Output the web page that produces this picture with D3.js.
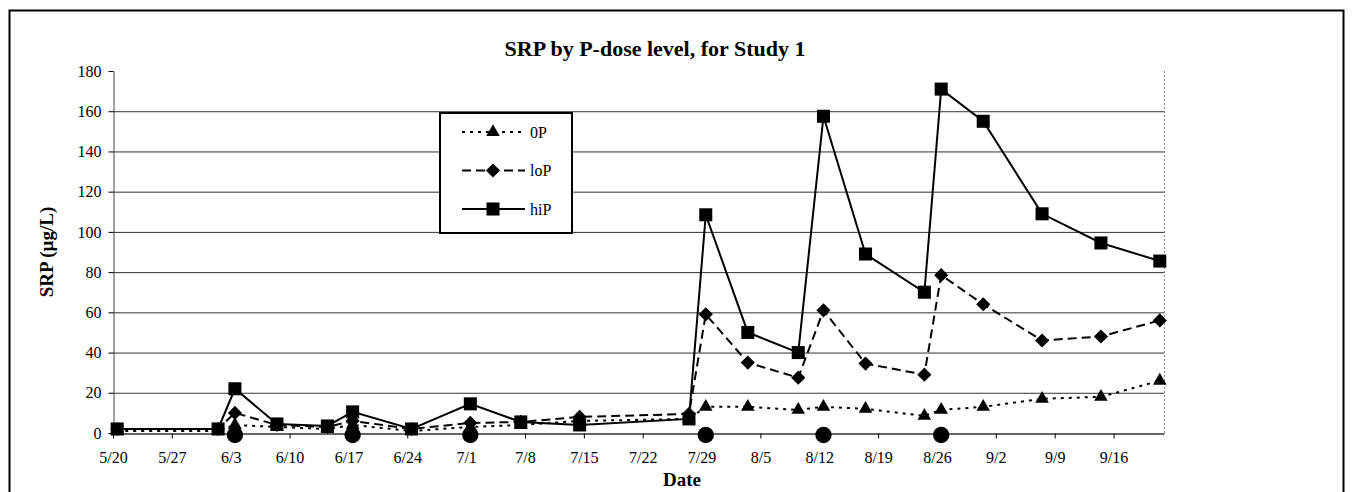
<!DOCTYPE html>
<html>
<head>
<meta charset="utf-8">
<script src="https://cdn.jsdelivr.net/npm/d3@7"></script>
<style>
  html, body { margin: 0; padding: 0; background: #fff; }
  svg { display: block; font-family: "Liberation Serif", "Times New Roman", serif; }
</style>
</head>
<body>
<svg></svg>
<script>
// sampling dates (samples taken around midday) and SRP in ug/L
var sampleDates = ['5/20', '6/1', '6/3', '6/8', '6/14', '6/17', '6/24', '7/1', '7/7', '7/14', '7/27',
    '7/29', '8/3', '8/9', '8/12', '8/17', '8/24', '8/26', '8/31', '9/7', '9/14', '9/21'];
var zeroP = [1, 1, 4, 3, 2, 4, 1, 3, 4, 6, 7, 13, 13, 11.5, 13, 12, 8.5, 11.5, 13, 17, 18, 26];
var loP = [2, 2, 10, 4, 3, 6, 2, 5, 5.5, 8, 9.5, 59, 35, 27.5, 61, 34.5, 29, 78.5, 64, 46, 48, 56];
var hiP = [2, 2, 22, 4.5, 3.5, 10.5, 2, 14.5, 5.5, 4, 7, 108.5, 50, 40, 157.5, 89, 70, 171, 155, 109, 94.5, 85.5];

// P-dose events
var doseDates = ['6/3', '6/17', '7/1', '7/29', '8/12', '8/26'];
var doseLevel = -1;

var tickDates = ['5/20', '5/27', '6/3', '6/10', '6/17', '6/24', '7/1', '7/8', '7/15', '7/22',
    '7/29', '8/5', '8/12', '8/19', '8/26', '9/2', '9/9', '9/16'];
var yTicks = [0, 20, 40, 60, 80, 100, 120, 140, 160, 180];
var gridTicks = [20, 40, 60, 80, 100, 120, 140, 160];

var width = 1353;
var height = 492;
var year = 2001;
var sampleHour = 12;

var parseDay = d3.timeParse('%m/%d/%Y %H');
function toTime(s, hour) {
    return parseDay(s + '/' + year + ' ' + (hour || 0));
}
var fmt = d3.timeFormat('%-m/%-d');

var x = d3.scaleTime()
    .domain([toTime('5/20'), toTime('9/22')])
    .range([113, 1164]);
var y = d3.scaleLinear()
    .domain([0, 180])
    .range([433, 71]);

var svg = d3.select('svg')
    .attr('width', width)
    .attr('height', height)
    .attr('viewBox', '0 0 ' + width + ' ' + height);

// outer frame
svg.append('rect')
    .attr('x', 9.5).attr('y', 10.5)
    .attr('width', 1334).attr('height', 520)
    .attr('fill', 'none')
    .attr('stroke', '#000')
    .attr('stroke-width', 2);

// title
svg.append('text')
    .attr('x', 655).attr('y', 56)
    .attr('text-anchor', 'middle')
    .style('font-weight', 'bold')
    .style('font-size', '22px')
    .text('SRP by P-dose level, for Study 1');

// gridlines
svg.append('g').selectAll('line')
    .data(gridTicks)
    .enter()
    .append('line')
    .attr('x1', x.range()[0]).attr('x2', x.range()[1])
    .attr('y1', function (d) { return y(d) + 0.5; })
    .attr('y2', function (d) { return y(d) + 0.5; })
    .attr('stroke', '#333')
    .attr('stroke-width', 1);

// right edge of plot area
svg.append('line')
    .attr('x1', x.range()[1] + 0.5).attr('x2', x.range()[1] + 0.5)
    .attr('y1', y(0)).attr('y2', y(180))
    .attr('stroke', '#888')
    .attr('stroke-dasharray', '2,2');

// y axis
var yAxis = svg.append('g')
    .attr('transform', 'translate(' + (x.range()[0] + 0.5) + ',0)')
    .call(d3.axisLeft(y).tickValues(yTicks).tickSize(5).tickSizeOuter(0));
yAxis.select('.domain').attr('stroke', '#444');
yAxis.selectAll('text')
    .attr('x', -12)
    .style('font-family', '"Liberation Serif", serif')
    .style('font-size', '16px')
    .attr('fill', '#000');

// x axis
var xAxis = svg.append('g')
    .attr('transform', 'translate(0,' + (y(0) + 0.5) + ')')
    .call(d3.axisBottom(x)
        .tickValues(tickDates.map(function (d) { return toTime(d); }))
        .tickFormat(fmt)
        .tickSize(5)
        .tickSizeOuter(0));
xAxis.select('.domain').attr('stroke', '#333').attr('stroke-width', 1.5);
xAxis.selectAll('text')
    .attr('y', 18)
    .style('font-family', '"Liberation Serif", serif')
    .style('font-size', '16px')
    .attr('fill', '#000');

// axis titles
svg.append('text')
    .attr('transform', 'translate(53,252) rotate(-90)')
    .attr('text-anchor', 'middle')
    .style('font-weight', 'bold')
    .style('font-size', '19px')
    .text('SRP (µg/L)');
svg.append('text')
    .attr('x', 682).attr('y', 486)
    .attr('text-anchor', 'middle')
    .style('font-weight', 'bold')
    .style('font-size', '19px')
    .text('Date');

var triangle = d3.symbol(d3.symbolTriangle, 80)();
var diamond = d3.symbol(d3.symbolSquare, 100)();
var square = d3.symbol(d3.symbolSquare, 170)();
var circle = d3.symbol(d3.symbolCircle, 210)();

var series = [
    { name: '0P', values: zeroP, dash: '3,5', shape: triangle, rot: 0 },
    { name: 'loP', values: loP, dash: '9,5', shape: diamond, rot: 45 },
    { name: 'hiP', values: hiP, dash: null, shape: square, rot: 0 }
];

var line = d3.line()
    .x(function (d) { return x(d.date); })
    .y(function (d) { return y(d.value); });

series.forEach(function (s) {
    var pts = sampleDates.map(function (d, i) {
        return { date: toTime(d, sampleHour), value: s.values[i] };
    });
    var g = svg.append('g').attr('class', 'series');
    g.append('path')
        .datum(pts)
        .attr('fill', 'none')
        .attr('stroke', '#000')
        .attr('stroke-width', 2)
        .attr('stroke-dasharray', s.dash)
        .attr('d', line);
    g.selectAll('path.mark')
        .data(pts)
        .enter()
        .append('path')
        .attr('class', 'mark')
        .attr('d', s.shape)
        .attr('fill', '#000')
        .attr('transform', function (d) {
            return 'translate(' + x(d.date) + ',' + y(d.value) + ') rotate(' + s.rot + ')';
        });
});

// dose markers
svg.append('g').selectAll('path')
    .data(doseDates)
    .enter()
    .append('path')
    .attr('d', circle)
    .attr('fill', '#000')
    .attr('transform', function (d) {
        return 'translate(' + x(toTime(d, sampleHour)) + ',' + y(doseLevel) + ')';
    });

// legend
var legend = svg.append('g').attr('transform', 'translate(440,113)');
legend.append('rect')
    .attr('width', 132).attr('height', 120)
    .attr('fill', '#fff')
    .attr('stroke', '#000')
    .attr('stroke-width', 2);
var item = legend.selectAll('g.item')
    .data(series)
    .enter()
    .append('g')
    .attr('class', 'item')
    .attr('transform', function (d, i) { return 'translate(0,' + (19 + i * 38.5) + ')'; });
item.append('line')
    .attr('x1', 22).attr('x2', 85)
    .attr('stroke', '#000')
    .attr('stroke-width', 2)
    .attr('stroke-dasharray', function (d) { return d.dash; });
item.append('path')
    .attr('d', function (d) { return d.shape; })
    .attr('transform', function (d) { return 'translate(53,0) rotate(' + d.rot + ')'; });
item.append('text')
    .attr('x', 90).attr('dy', '0.35em')
    .style('font-size', '16px')
    .text(function (d) { return d.name; });
</script>
</body>
</html>
